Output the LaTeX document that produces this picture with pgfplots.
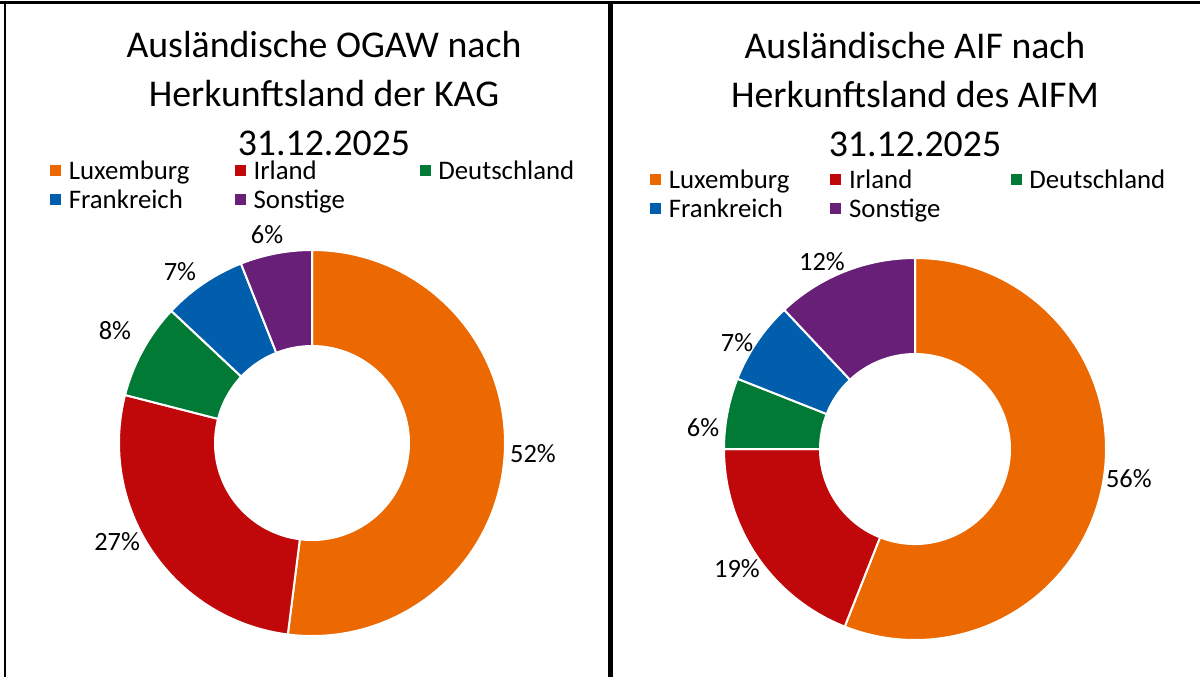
\documentclass[border=0pt]{standalone}
\usepackage{pgfplots}
\pgfplotsset{compat=1.18}
\usepackage{pgfplotstable}
\usepackage{fontspec}
\setmainfont{Carlito}

\definecolor{c0}{RGB}{236,104,0}
\definecolor{c1}{RGB}{192,8,10}
\definecolor{c2}{RGB}{0,122,52}
\definecolor{c3}{RGB}{0,94,172}
\definecolor{c4}{RGB}{104,31,120}

% value = share in %, lx/ly = label position (in units of the outer radius)
\pgfplotstableread{
value lx ly
52  1.145 -0.057
27 -1.010 -0.513
8  -1.021  0.580
7  -0.684  0.886
6  -0.233  1.078
}\tblA
\pgfplotstableread{
value lx ly
56  1.120 -0.157
19 -0.932 -0.628
6  -1.110  0.110
7  -0.932  0.555
12 -0.487  0.979
}\tblB

\tikzset{labfont/.style={font=\fontsize{13.2}{14}\selectfont}}

\newcommand\drawdonut[3]{%
  \def\cum{0}%
  \pgfplotsforeachungrouped \i in {0,...,4}{%
    \pgfplotstablegetelem{\i}{value}\of#1\let\v\pgfplotsretval
    \pgfplotstablegetelem{\i}{lx}\of#1\let\lx\pgfplotsretval
    \pgfplotstablegetelem{\i}{ly}\of#1\let\ly\pgfplotsretval
    \pgfmathsetmacro\aS{90-3.6*\cum}%
    \pgfmathsetmacro\cum{\cum+\v}%
    \pgfmathsetmacro\aE{90-3.6*\cum}%
    \edef\temp{\noexpand\fill[c\i, draw=white, line width=1pt, line join=round]
      ([shift={(\aS:#2)}]axis cs:0,0) arc[start angle=\aS, end angle=\aE, radius=#2]
      -- ([shift={(\aE:#3)}]axis cs:0,0) arc[start angle=\aE, end angle=\aS, radius=#3] -- cycle;
      \noexpand\node[labfont, inner sep=0pt] at (axis cs:\lx,\ly) {\v\noexpand\%};}%
    \temp
  }%
}

\pgfplotsset{
  donut/.style={
    scale only axis, xmin=-1, xmax=1, ymin=-1, ymax=1, hide axis, clip=false,
    title style={align=center, anchor=north, inner sep=0pt, text depth=0pt,
      font=\fontsize{18.9}{24.5}\selectfont},
    legend columns=3,
    legend image code/.code={\fill[##1] (0pt,1.9pt) rectangle (5pt,6.9pt);},
    legend style={draw=none, fill=none, anchor=north west, inner sep=0pt, outer sep=0pt,
      font=\fontsize{13.4}{14.5}\selectfont,
      nodes={inner sep=0pt, outer sep=0pt, text height=9pt, text depth=3pt, anchor=base west},
      cells={anchor=base west},
      row sep=2.5pt,
      /tikz/every odd column/.append style={column sep=4pt}},
  }
}

\begin{document}
\begin{tikzpicture}
\path[use as bounding box] (0,0) rectangle (600pt,-338.5pt);
% frame lines
\draw[line width=1.6pt] (0,-1.35pt) -- (600pt,-1.35pt);
\draw[line width=1.2pt] (2.4pt,-0.5pt) -- (2.4pt,-338.5pt);
\draw[line width=2.5pt] (305pt,-0.5pt) -- (305pt,-338.5pt);

\begin{axis}[donut, at={(59.5pt,-318pt)}, anchor=south west, width=193pt, height=193pt,
  title={Ausländische OGAW nach\\Herkunftsland der KAG\\31.12.2025},
  title style={at={(axis description cs:0.531,1.536)}},
  legend style={at={(axis description cs:-0.1788,1.2306)}}]
\addlegendimage{c0}\addlegendentry{\makebox[83pt][l]{Luxemburg}}
\addlegendimage{c1}\addlegendentry{\makebox[83pt][l]{Irland}}
\addlegendimage{c2}\addlegendentry{Deutschland}
\addlegendimage{c3}\addlegendentry{\makebox[83pt][l]{Frankreich}}
\addlegendimage{c4}\addlegendentry{\makebox[83pt][l]{Sonstige}}
\drawdonut{\tblA}{96.5pt}{48.5pt}
\end{axis}

\begin{axis}[donut, at={(362pt,-320pt)}, anchor=south west, width=191pt, height=191pt,
  title={Ausländische AIF nach\\Herkunftsland des AIFM\\31.12.2025},
  title style={at={(axis description cs:0.5,1.560)}},
  legend style={at={(axis description cs:-0.1937,1.2304)}}]
\addlegendimage{c0}\addlegendentry{\makebox[80.75pt][l]{Luxemburg}}
\addlegendimage{c1}\addlegendentry{\makebox[80.75pt][l]{Irland}}
\addlegendimage{c2}\addlegendentry{Deutschland}
\addlegendimage{c3}\addlegendentry{\makebox[80.75pt][l]{Frankreich}}
\addlegendimage{c4}\addlegendentry{\makebox[80.75pt][l]{Sonstige}}
\drawdonut{\tblB}{95.5pt}{47.5pt}
\end{axis}
\end{tikzpicture}
\end{document}
